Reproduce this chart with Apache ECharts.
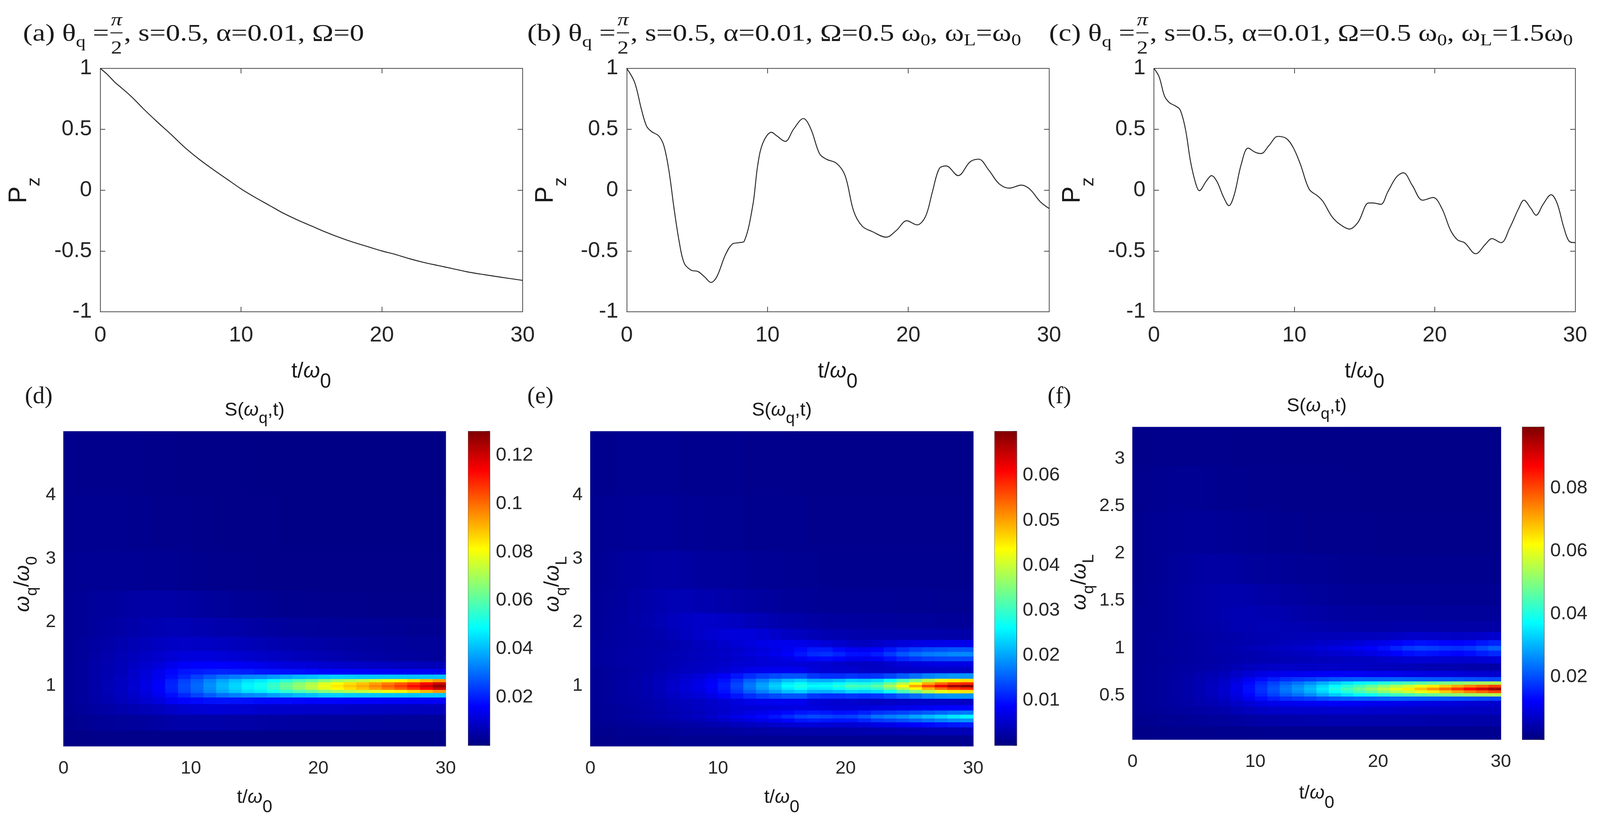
<!DOCTYPE html>
<html><head><meta charset="utf-8">
<script src="https://cdn.jsdelivr.net/npm/echarts@6/dist/echarts.min.js"></script>
<style>html,body{margin:0;padding:0;background:#fff;overflow:hidden;}#c{width:100vw;height:100vh;}</style>
</head><body><div id="c"></div>
<script>
// ---------------- line panels (a)(b)(c): t/ω0 and Pz ----------------
const A_T = [0,0.5,1,1.5,2,2.5,3,4,5,6,7,8,9,10,11,12,13,14,15,16,17,18,19,20,21,22,23,24,25,26,27,28,29,30];
const A_P = [1,0.95,0.89,0.84,0.79,0.735,0.675,0.565,0.46,0.35,0.255,0.17,0.09,0.01,-0.06,-0.125,-0.19,-0.245,-0.295,-0.345,-0.39,-0.43,-0.465,-0.5,-0.53,-0.565,-0.595,-0.62,-0.645,-0.67,-0.69,-0.708,-0.725,-0.742];
const B_T = [0,0.56,1.05,1.41,1.77,2.26,2.63,2.99,3.36,3.72,4.08,4.57,5.06,5.54,5.98,6.39,7.0,7.49,7.97,8.34,8.95,9.31,9.68,10.28,10.65,11.26,11.86,12.55,13.08,13.69,14.17,14.9,15.51,16.12,16.73,17.46,18.43,19.16,19.89,20.62,21.22,21.71,22.2,22.69,23.54,24.39,25.0,25.72,26.45,27.18,28.03,28.64,29.37,30];
const B_P = [1,0.885,0.66,0.525,0.48,0.446,0.367,0.164,-0.151,-0.42,-0.6,-0.658,-0.669,-0.714,-0.759,-0.714,-0.534,-0.444,-0.432,-0.421,-0.128,0.209,0.39,0.475,0.446,0.40,0.502,0.588,0.502,0.30,0.254,0.22,0.119,-0.173,-0.297,-0.342,-0.387,-0.331,-0.252,-0.286,-0.218,-0.016,0.176,0.198,0.119,0.232,0.254,0.164,0.052,0.016,0.041,0.007,-0.095,-0.151];
const C_T = [0,0.37,0.75,1.12,1.49,1.86,2.24,2.61,2.98,3.23,3.73,4.1,4.47,4.97,5.34,5.72,6.21,6.71,7.21,7.63,8.2,8.82,9.44,9.94,10.44,11.06,11.68,12.05,12.68,13.3,13.92,14.54,15.29,15.61,16.16,16.65,17.28,17.77,18.39,19.14,19.89,20.51,21.13,21.63,22.12,22.92,23.62,24.07,24.73,25.35,25.98,26.35,26.85,27.22,27.72,28.29,28.71,29.2,29.58,30];
const C_P = [1,0.93,0.773,0.716,0.694,0.66,0.502,0.232,0.052,-0.005,0.074,0.119,0.074,-0.061,-0.128,-0.038,0.209,0.345,0.311,0.30,0.367,0.441,0.423,0.345,0.209,0.007,-0.05,-0.095,-0.218,-0.286,-0.32,-0.264,-0.106,-0.106,-0.117,-0.016,0.108,0.142,0.041,-0.083,-0.061,-0.151,-0.331,-0.41,-0.432,-0.523,-0.444,-0.399,-0.432,-0.309,-0.151,-0.083,-0.151,-0.207,-0.117,-0.038,-0.106,-0.309,-0.421,-0.432];
const T_TICKS = [0, 10, 20, 30];
const P_TICKS = [-1, -0.5, 0, 0.5, 1];

// ---------------- heat maps (d)(e)(f): S(ωq,t), values in units of 1e-4 ----------------
const T_CELLS = [0.5,1.5,2.5,3.5,4.5,5.5,6.5,7.5,8.5,9.5,10.5,11.5,12.5,13.5,14.5,15.5,16.5,17.5,18.5,19.5,20.5,21.5,22.5,23.5,24.5,25.5,26.5,27.5,28.5,29.5];
const CB_MAX = [0.130, 0.0698, 0.0995];
const CB_STEP = [0.02, 0.01, 0.02];
const D_WTICKS = [1, 2, 3, 4];
const E_WTICKS = [1, 2, 3, 4];
const F_WTICKS = [0.5, 1, 1.5, 2, 2.5, 3];
const D_RANGE = [0.05, 5.0];
const E_RANGE = [0.05, 5.0];
const F_RANGE = [0.033, 3.333];

const D_OMEGA = [0.15,0.45,0.65,0.78,0.86,0.92,0.96,1.00,1.04,1.08,1.14,1.22,1.32,1.45,1.65,1.9,2.25,2.75,3.5,4.5];
const D_S = [
[12,13,14,15,15,15,15,15,15,15,15,14,14,14,13,13,13,12,12,12,12,12,12,12,12,12,12,12,12,12],
[20,24,29,33,35,38,41,45,49,52,53,53,52,50,48,46,45,44,43,42,41,40,39,38,37,36,35,35,34,34],
[25,33,43,50,57,63,71,81,92,102,106,108,108,106,103,99,97,96,95,93,92,90,88,86,84,82,80,79,78,77],
[28,38,51,64,74,87,102,121,148,165,171,180,184,183,180,172,170,170,168,161,165,165,161,159,157,155,152,150,150,148],
[28,38,52,66,79,96,116,143,176,209,247,278,306,324,337,344,363,383,400,408,424,429,425,420,418,417,414,411,415,416],
[28,38,53,67,82,101,124,156,199,247,284,331,376,412,446,465,501,543,584,613,658,694,716,739,770,799,827,860,901,946],
[28,38,53,68,83,102,127,161,205,253,293,342,392,432,471,500,549,608,665,712,770,817,853,889,933,978,1022,1073,1134,1204],
[28,38,53,68,83,103,128,163,208,258,298,348,398,438,478,508,558,618,678,728,788,838,878,918,968,1018,1068,1128,1198,1278],
[28,38,53,68,83,102,127,160,204,252,292,341,391,431,470,499,548,606,663,710,768,815,851,887,930,975,1018,1069,1130,1198],
[28,38,53,67,82,100,123,155,198,245,282,329,373,409,443,462,498,540,581,610,654,690,712,735,766,795,823,856,897,941],
[28,38,52,66,79,95,115,142,175,207,245,276,304,321,335,342,360,380,398,406,421,426,422,417,415,414,411,408,412,413],
[28,38,51,64,74,95,113,136,167,188,195,204,207,204,199,189,185,183,179,170,165,163,159,157,155,153,150,148,147,145],
[28,38,52,64,74,86,100,117,138,155,160,162,160,154,146,136,128,122,116,110,104,99,94,90,86,83,80,77,75,73],
[28,36,48,58,68,78,88,98,108,115,118,117,112,106,99,92,86,80,75,70,65,60,55,51,47,44,41,39,37,35],
[28,35,44,52,60,68,76,83,88,90,89,86,82,77,72,67,63,59,55,52,49,46,44,42,40,38,37,36,35,34],
[27,32,38,44,50,56,62,66,68,67,64,60,56,52,48,44,41,38,36,34,33,32,31,30,29,28,27,26,25,24],
[27,30,34,38,42,46,49,50,49,46,42,38,34,30,27,24,22,20,19,18,17,17,16,16,15,15,15,15,15,15],
[24,26,27,27,27,27,26,25,24,22,20,18,16,15,14,13,13,12,12,12,12,12,12,11,11,11,11,11,11,11],
[20,22,22,22,21,20,19,18,17,16,15,14,13,12,12,11,11,10,10,10,10,10,10,10,10,10,10,10,10,10],
[16,18,18,18,17,16,15,14,14,13,12,12,11,11,10,10,10,10,9,9,9,9,9,9,9,9,9,9,9,9]];

const E_OMEGA = [0.15,0.3,0.4,0.46,0.52,0.58,0.65,0.75,0.85,0.92,0.96,1.0,1.04,1.08,1.15,1.25,1.35,1.43,1.5,1.57,1.65,1.8,2.0,2.3,2.75,3.5,4.5];
const E_S = [
[8,9,10,10,11,11,12,12,12,12,12,13,13,13,13,13,13,13,13,13,13,13,13,13,13,13,13,13,13,13],
[10,11,12,13,15,16,18,19,20,21,22,24,25,26,27,28,29,30,30,30,30,31,32,33,34,35,36,37,38,38],
[12,14,16,18,20,22,24,26,28,31,35,40,44,48,52,56,60,62,60,58,58,62,68,72,80,86,92,98,102,106],
[14,16,18,21,24,27,30,34,38,43,50,58,64,72,80,90,100,105,102,98,100,111,126,133,141,152,163,175,184,190],
[16,18,21,24,28,32,36,41,46,52,61,71,81,91,101,116,131,138,134,128,131,146,166,176,186,201,216,231,246,258],
[15,17,20,23,26,30,33,37,41,46,53,60,67,75,83,92,101,105,101,96,98,108,120,126,132,140,148,156,164,170],
[15,18,21,24,28,32,36,41,46,50,54,58,60,62,64,66,68,66,62,60,60,62,66,68,72,76,80,84,86,88],
[16,20,23,26,30,34,39,43,46,51,57,65,72,76,78,78,76,63,58,56,55,49,47,49,50,51,52,51,50,47],
[16,20,24,27,33,38,46,54,60,70,83,100,117,129,138,145,145,125,118,118,124,119,123,135,149,163,178,186,191,189],
[16,20,24,28,34,40,49,58,67,80,97,122,151,174,196,217,228,207,206,215,232,227,237,270,309,347,390,423,447,457],
[16,20,24,28,34,41,51,60,70,84,104,132,166,194,221,248,266,245,248,264,285,279,294,336,386,435,492,537,571,586],
[16,20,24,28,34,41,51,61,71,86,106,136,171,201,231,261,281,261,266,286,311,306,326,376,436,496,566,626,671,696],
[16,20,24,28,34,41,51,60,70,84,104,132,166,194,221,248,266,245,248,264,285,279,294,336,386,435,492,537,571,586],
[16,20,24,28,34,40,49,58,67,80,97,122,151,174,196,217,228,207,206,215,232,227,237,270,309,347,390,423,447,457],
[16,20,24,27,33,38,46,54,60,70,83,100,117,129,138,145,145,125,118,118,124,119,123,135,149,163,178,186,191,189],
[16,20,23,26,30,34,39,43,46,51,57,65,72,76,78,78,76,63,58,56,55,49,47,49,50,51,52,51,50,47],
[20,23,25,27,29,32,36,40,44,48,52,56,58,60,62,62,60,58,56,52,48,46,48,54,60,64,66,68,68,68],
[20,23,25,27,29,32,35,38,41,44,48,52,56,60,64,70,80,90,92,85,76,74,81,96,111,122,130,134,137,137],
[20,23,26,28,30,33,36,39,42,46,51,56,62,68,76,86,101,116,121,111,98,96,106,126,146,161,171,176,181,181],
[20,23,25,27,29,31,34,37,40,44,48,52,58,64,70,78,92,104,104,92,80,78,86,102,118,130,138,142,146,146],
[19,22,24,26,28,30,33,37,42,47,53,58,64,70,74,75,72,66,60,54,48,46,50,56,62,66,70,72,73,73],
[18,21,23,26,29,33,38,44,50,55,60,62,62,58,52,46,42,38,35,33,31,30,30,30,30,30,29,29,28,28],
[17,20,23,27,31,36,42,47,50,50,48,45,41,37,33,30,27,25,23,22,21,20,20,20,19,19,19,18,18,18],
[16,19,22,26,30,34,36,36,34,32,29,26,24,22,20,18,17,16,15,15,14,14,14,13,13,13,13,12,12,12],
[14,17,20,22,24,25,25,24,22,20,19,17,16,15,14,13,12,12,11,11,11,10,10,10,10,10,10,10,10,10],
[12,14,15,16,17,17,16,15,14,13,12,12,11,11,10,10,10,9,9,9,9,9,9,9,9,9,9,9,9,9],
[10,11,12,12,12,12,12,11,11,10,10,10,9,9,9,9,8,8,8,8,8,8,8,8,8,8,8,8,8,8]];

const F_OMEGA = [0.1,0.25,0.35,0.42,0.47,0.51,0.54,0.57,0.60,0.63,0.67,0.72,0.8,0.88,0.95,1.0,1.05,1.12,1.22,1.35,1.55,1.8,2.2,2.7,3.15];
const F_S = [
[10,11,12,13,13,14,14,15,15,16,16,17,17,17,17,17,17,17,17,17,17,17,17,17,17,17,17,17,17,17],
[15,17,19,21,23,25,27,29,32,35,38,40,42,43,44,45,46,46,46,45,45,45,44,44,43,43,42,42,41,41],
[19,22,25,28,31,35,39,44,52,60,68,72,75,76,77,78,79,79,78,76,75,74,72,70,69,68,67,66,65,64],
[21,25,28,33,38,44,50,58,70,84,96,104,109,111,112,116,118,116,115,110,109,107,102,98,95,92,88,85,81,77],
[21,25,29,34,40,48,56,68,87,112,134,152,166,175,184,197,207,212,216,214,216,218,215,212,210,208,205,201,197,192],
[21,25,29,35,41,50,60,74,96,128,157,186,214,235,260,292,322,345,368,385,405,428,443,458,475,491,508,523,536,546],
[21,25,29,35,42,51,62,76,100,135,168,201,234,262,294,335,375,410,444,473,506,543,574,605,638,672,709,744,775,805],
[21,25,29,35,42,51,62,77,102,137,172,207,242,272,307,352,397,437,477,512,552,597,637,677,722,767,817,867,912,957],
[21,25,29,35,42,51,62,76,100,135,168,201,234,262,294,335,375,410,444,473,506,543,574,605,638,672,709,744,775,805],
[21,25,29,35,41,50,60,74,96,128,157,186,214,235,260,292,322,345,368,385,405,428,443,458,475,491,508,523,536,546],
[21,25,29,34,40,48,56,68,87,112,134,152,166,175,184,197,207,212,216,214,216,218,215,212,210,208,205,201,197,192],
[21,25,28,33,38,44,50,58,70,84,96,104,109,111,112,116,118,116,115,110,109,107,102,98,95,92,88,85,81,77],
[21,24,27,31,34,38,41,45,52,60,66,69,70,69,68,69,69,67,65,61,60,58,55,52,50,48,46,44,42,39],
[19,22,25,28,31,34,37,40,43,46,48,50,52,54,56,58,60,62,64,66,70,75,80,82,80,78,76,78,82,86],
[20,23,26,29,32,35,38,41,44,47,50,54,58,62,66,72,78,84,90,97,108,122,136,143,139,132,128,135,150,164],
[21,24,27,30,33,37,41,45,49,53,57,62,67,73,79,87,95,103,112,122,137,157,177,187,182,172,167,177,197,217],
[20,23,26,29,32,35,38,41,44,47,50,54,58,62,66,71,76,82,88,94,104,118,131,138,134,127,123,130,144,158],
[19,22,25,28,31,34,37,40,43,46,48,50,52,53,54,55,56,57,58,59,62,67,72,74,72,70,68,70,74,78],
[18,21,24,28,32,36,40,44,48,50,52,52,51,49,47,45,43,41,40,39,39,40,41,41,40,39,38,38,38,38],
[18,21,25,29,33,38,43,47,49,50,49,47,44,41,38,35,33,31,30,29,28,28,28,28,27,27,27,26,26,26],
[17,20,24,28,33,38,42,44,44,42,39,36,33,30,28,26,24,23,22,21,21,20,20,20,20,19,19,19,19,19],
[16,19,23,27,31,34,35,34,32,29,27,25,23,21,20,19,18,17,17,16,16,16,16,15,15,15,15,15,15,15],
[15,18,21,23,25,25,24,23,21,19,18,17,16,15,14,14,13,13,13,12,12,12,12,12,12,12,12,12,12,12],
[13,15,17,18,18,18,17,16,15,14,13,13,12,12,11,11,11,11,10,10,10,10,10,10,10,10,10,10,10,10],
[11,12,13,14,14,14,13,13,12,12,11,11,10,10,10,10,10,9,9,9,9,9,9,9,9,9,9,9,9,9]];

// ---------------- styling / layout (reference pixel frame 4179 x 2109, scaled to the real viewport) ----------------
const SANS = 'Liberation Sans';
const SERIF = 'Liberation Serif';
const INK = '#1a1a1a';
const AX = '#4d4d4d';
const JET = ['#00007F','#0000FF','#007FFF','#00FFFF','#7FFF7F','#FFFF00','#FF7F00','#FF0000','#7F0000'];

const chart = echarts.init(document.getElementById('c'), null, {renderer:'canvas'});
const KX = chart.getWidth() / 4179, KY = chart.getHeight() / 2109, KF = Math.min(KX, KY);
const X = v => v * KX, Y = v => v * KY, F = v => v * KF;

const GRID_BOX = [
  [262, 175, 1103, 623], [1637, 175, 1103, 623], [3014, 175, 1100, 623],
  [166, 1104, 998, 806], [1223, 1104, 56, 804],
  [1542, 1104, 1000, 806], [2598, 1104, 57, 804],
  [2958, 1093, 962, 800], [3976, 1093, 57, 800]
];
const GRIDS = GRID_BOX.map((b, i) => {
  const g = {left:X(b[0]), top:Y(b[1]), width:X(b[2]), height:Y(b[3]), containLabel:false, outerBoundsMode:'none'};
  if (i >= 3) { g.show = true; g.borderWidth = 1.5; g.borderColor = (i % 2 === 1) ? 'rgba(110,110,170,0.9)' : '#555'; }
  return g;
});

function lineX(gi, pos) {
  return {gridIndex:gi, type:'value', position:pos, min:T_TICKS[0], max:T_TICKS[3], interval:10,
    axisLine:{show:true, onZero:false, lineStyle:{color:AX, width:2}},
    axisTick:{show:true, inside:true, length:F(13), lineStyle:{color:AX, width:2}},
    axisLabel:{show:pos==='bottom', fontSize:F(57), fontFamily:SANS, color:'#262626', margin:F(33)},
    splitLine:{show:false}};
}
function lineY(gi, pos) {
  return {gridIndex:gi, type:'value', position:pos, min:P_TICKS[0], max:P_TICKS[4], interval:0.5,
    axisLine:{show:true, onZero:false, lineStyle:{color:AX, width:2}},
    axisTick:{show:true, inside:true, length:F(13), lineStyle:{color:AX, width:2}},
    axisLabel:{show:pos==='left', fontSize:F(57), fontFamily:SANS, color:'#262626', margin:F(22)},
    splitLine:{show:false}};
}
function heatX(gi) {
  return {gridIndex:gi, type:'value', min:0, max:30, interval:10,
    axisLine:{show:false}, axisTick:{show:false}, splitLine:{show:false},
    axisLabel:{fontSize:F(48), fontFamily:SANS, color:'#262626', margin:F(34)}};
}
function heatY(gi, range, ticks) {
  return {gridIndex:gi, type:'value', min:range[0], max:range[1],
    axisLine:{show:false}, axisTick:{show:false}, splitLine:{show:false},
    axisLabel:{customValues:ticks, fontSize:F(48), fontFamily:SANS, color:'#262626', margin:F(20)}};
}
function cbX(gi) { return {gridIndex:gi, type:'category', data:['cb'], show:false}; }
function cbY(gi, k) {
  const step = CB_STEP[k];
  return {gridIndex:gi, type:'value', position:'right', min:0, max:CB_MAX[k], interval:step,
    axisLine:{show:true, lineStyle:{color:'#444', width:1.5}},
    axisTick:{show:true, inside:true, length:F(9), lineStyle:{color:'#444', width:1.5}},
    splitLine:{show:false},
    axisLabel:{fontSize:F(50), fontFamily:SANS, color:'#262626', margin:F(16),
      formatter: v => { const q = v / step; return (v > 1e-9 && Math.abs(q - Math.round(q)) < 1e-6) ? String(+v.toFixed(3)) : ''; }}};
}

function bounds(centers, lo, hi) {
  const b = [lo];
  for (let i = 0; i < centers.length - 1; i++) b.push((centers[i] + centers[i + 1]) / 2);
  b.push(hi);
  return b;
}
function heatData(om, S, range) {
  const tb = bounds(T_CELLS, 0, 30), wb = bounds(om, range[0], range[1]);
  const out = [];
  for (let r = 0; r < om.length; r++)
    for (let c = 0; c < T_CELLS.length; c++)
      out.push([tb[c], tb[c + 1], wb[r], wb[r + 1], S[r][c] * 1e-4]);
  return out;
}
function heatSeries(xi, yi, om, S, range) {
  return {type:'custom', xAxisIndex:xi, yAxisIndex:yi, clip:true, silent:true,
    dimensions:['t0','t1','w0','w1','s'], encode:{x:[0,1], y:[2,3]},
    data: heatData(om, S, range),
    renderItem: (params, api) => {
      const p0 = api.coord([api.value(0), api.value(3)]);
      const p1 = api.coord([api.value(1), api.value(2)]);
      return {type:'rect', shape:{x:p0[0] - 0.6, y:p0[1] - 0.6, width:p1[0] - p0[0] + 1.2, height:p1[1] - p0[1] + 1.2},
        style:{fill: api.visual('color')}};
    }};
}
function cbSeries(xi, yi, k) {
  return {type:'bar', xAxisIndex:xi, yAxisIndex:yi, data:[CB_MAX[k]], barWidth:'100%', silent:true,
    itemStyle:{color: new echarts.graphic.LinearGradient(0, 1, 0, 0, JET.map((c, i) => ({offset: i / 8, color: c})))}};
}
function lineSeries(xi, yi, T, P, smooth) {
  return {type:'line', xAxisIndex:xi, yAxisIndex:yi, data:T.map((t, i) => [t, P[i]]), showSymbol:false,
    smooth: smooth, silent:true, lineStyle:{color:'#262626', width:2.4}, clip:true};
}

// ---------------- text helpers (sub/superscripts, fractions) ----------------
const mctx = document.createElement('canvas').getContext('2d');
function txt(t, x, y, s, fam, style, align) {
  return {type:'text', x:x, y:y, silent:true,
    style:{text:t, fontSize:s, fontFamily:fam, fontStyle:style, fill:INK, align:align, verticalAlign:'middle'}};
}
function run(pieces, fam0) {
  let x = 0; const kids = [];
  for (const p of pieces) {
    const fam = p.f || fam0;
    const s = F(p.s);
    if (p.frac) {
      mctx.font = 'italic ' + s + 'px "' + fam + '"'; const w1 = mctx.measureText(p.num).width;
      mctx.font = s + 'px "' + fam + '"'; const w2 = mctx.measureText(p.den).width;
      const w = Math.max(w1, w2) + F(8);
      kids.push(txt(p.num, x + w / 2, F(p.numDy), s, fam, 'italic', 'center'));
      kids.push(txt(p.den, x + w / 2, F(p.denDy), s, fam, 'normal', 'center'));
      kids.push({type:'rect', silent:true, shape:{x:x + F(3), y:F(p.barDy) - F(1.3), width:w - F(6), height:F(2.6)}, style:{fill:INK}});
      x += w;
    } else {
      mctx.font = (p.it ? 'italic ' : '') + s + 'px "' + fam + '"';
      const w = mctx.measureText(p.t).width;
      kids.push(txt(p.t, x, F(p.dy || 0), s, fam, p.it ? 'italic' : 'normal', 'left'));
      x += w;
    }
  }
  return {w:x, kids:kids};
}
function textGroup(pieces, fam, o) {
  const r = run(pieces, fam);
  const sx = o.width ? X(o.width) / r.w : 1;
  const off = o.anchor === 'center' ? -r.w / 2 : 0;
  r.kids.forEach(k => { if (k.type === 'rect') k.shape.x += off; else k.x += off; });
  return {type:'group', x:X(o.x), y:Y(o.y), rotation:o.rot || 0, scaleX:sx, children:r.kids, silent:true};
}

const TS = 62, SUB = 42;
const FRAC = {frac:true, num:'π', den:'2', s:48, numDy:-36, denDy:37, barDy:-4};
function titlePieces(letter, tail) {
  return [{t:'(' + letter + ') θ', s:TS}, {t:'q', s:SUB, dy:22}, {t:' =', s:TS}, FRAC].concat(tail);
}
const titleA = titlePieces('a', [{t:', s=0.5, α=0.01, Ω=0', s:TS}]);
const titleB = titlePieces('b', [{t:', s=0.5, α=0.01, Ω=0.5 ω', s:TS}, {t:'0', s:SUB, dy:18}, {t:', ω', s:TS}, {t:'L', s:SUB, dy:18}, {t:'=ω', s:TS}, {t:'0', s:SUB, dy:18}]);
const titleC = titlePieces('c', [{t:', s=0.5, α=0.01, Ω=0.5 ω', s:TS}, {t:'0', s:SUB, dy:18}, {t:', ω', s:TS}, {t:'L', s:SUB, dy:18}, {t:'=1.5ω', s:TS}, {t:'0', s:SUB, dy:18}]);

const pzName = [{t:'P', s:66}, {t:'z', s:48, dy:40}];
const tTop = [{t:'t/', s:56}, {t:'ω', s:56, it:true}, {t:'0', s:52, dy:28}];
const tHeat = [{t:'t/', s:50}, {t:'ω', s:50, it:true}, {t:'0', s:46, dy:26}];
const sTitle = [{t:'S(', s:50}, {t:'ω', s:50, it:true}, {t:'q', s:42, dy:22}, {t:',t)', s:50}];
function wName(sub2) { return [{t:'ω', s:54, it:true}, {t:'q', s:42, dy:24}, {t:'/', s:54}, {t:'ω', s:54, it:true}, {t:sub2, s:42, dy:24}]; }

const ROT = Math.PI / 2;
const graphics = [
  textGroup(titleA, SERIF, {x:60, y:88, width:891}),
  textGroup(titleB, SERIF, {x:1377, y:88, width:1290}),
  textGroup(titleC, SERIF, {x:2740, y:88, width:1368}),
  textGroup(pzName, SANS, {x:50, y:487, anchor:'center', rot:ROT}),
  textGroup(pzName, SANS, {x:1425, y:487, anchor:'center', rot:ROT}),
  textGroup(pzName, SANS, {x:2802, y:487, anchor:'center', rot:ROT}),
  textGroup(tTop, SANS, {x:813, y:951, anchor:'center'}),
  textGroup(tTop, SANS, {x:2188, y:951, anchor:'center'}),
  textGroup(tTop, SANS, {x:3564, y:951, anchor:'center'}),
  textGroup([{t:'(d)', s:62}], SERIF, {x:65, y:1016}),
  textGroup([{t:'(e)', s:62}], SERIF, {x:1377, y:1016}),
  textGroup([{t:'(f)', s:62}], SERIF, {x:2736, y:1016}),
  textGroup(sTitle, SANS, {x:665, y:1050, anchor:'center'}),
  textGroup(sTitle, SANS, {x:2042, y:1050, anchor:'center'}),
  textGroup(sTitle, SANS, {x:3439, y:1039, anchor:'center'}),
  textGroup(tHeat, SANS, {x:665, y:2041, anchor:'center'}),
  textGroup(tHeat, SANS, {x:2042, y:2041, anchor:'center'}),
  textGroup(tHeat, SANS, {x:3439, y:2030, anchor:'center'}),
  textGroup(wName('0'), SANS, {x:60, y:1495, anchor:'center', rot:ROT}),
  textGroup(wName('L'), SANS, {x:1444, y:1495, anchor:'center', rot:ROT}),
  textGroup(wName('L'), SANS, {x:2820, y:1490, anchor:'center', rot:ROT})
];

const option = {
  animation:false,
  backgroundColor:'#ffffff',
  grid: GRIDS,
  xAxis: [lineX(0,'bottom'), lineX(0,'top'), lineX(1,'bottom'), lineX(1,'top'), lineX(2,'bottom'), lineX(2,'top'),
          heatX(3), cbX(4), heatX(5), cbX(6), heatX(7), cbX(8)],
  yAxis: [lineY(0,'left'), lineY(0,'right'), lineY(1,'left'), lineY(1,'right'), lineY(2,'left'), lineY(2,'right'),
          heatY(3, D_RANGE, D_WTICKS), cbY(4, 0), heatY(5, E_RANGE, E_WTICKS), cbY(6, 1), heatY(7, F_RANGE, F_WTICKS), cbY(8, 2)],
  visualMap: [
    {type:'continuous', show:false, seriesIndex:3, dimension:4, min:0, max:CB_MAX[0], inRange:{color:JET}},
    {type:'continuous', show:false, seriesIndex:5, dimension:4, min:0, max:CB_MAX[1], inRange:{color:JET}},
    {type:'continuous', show:false, seriesIndex:7, dimension:4, min:0, max:CB_MAX[2], inRange:{color:JET}}
  ],
  series: [
    lineSeries(0, 0, A_T, A_P, 0.3),
    lineSeries(2, 2, B_T, B_P, 0.35),
    lineSeries(4, 4, C_T, C_P, 0.35),
    heatSeries(6, 6, D_OMEGA, D_S, D_RANGE),
    cbSeries(7, 7, 0),
    heatSeries(8, 8, E_OMEGA, E_S, E_RANGE),
    cbSeries(9, 9, 1),
    heatSeries(10, 10, F_OMEGA, F_S, F_RANGE),
    cbSeries(11, 11, 2)
  ],
  graphic: {elements: graphics}
};
chart.setOption(option);
window.addEventListener('resize', () => chart.resize());
</script></body></html>
